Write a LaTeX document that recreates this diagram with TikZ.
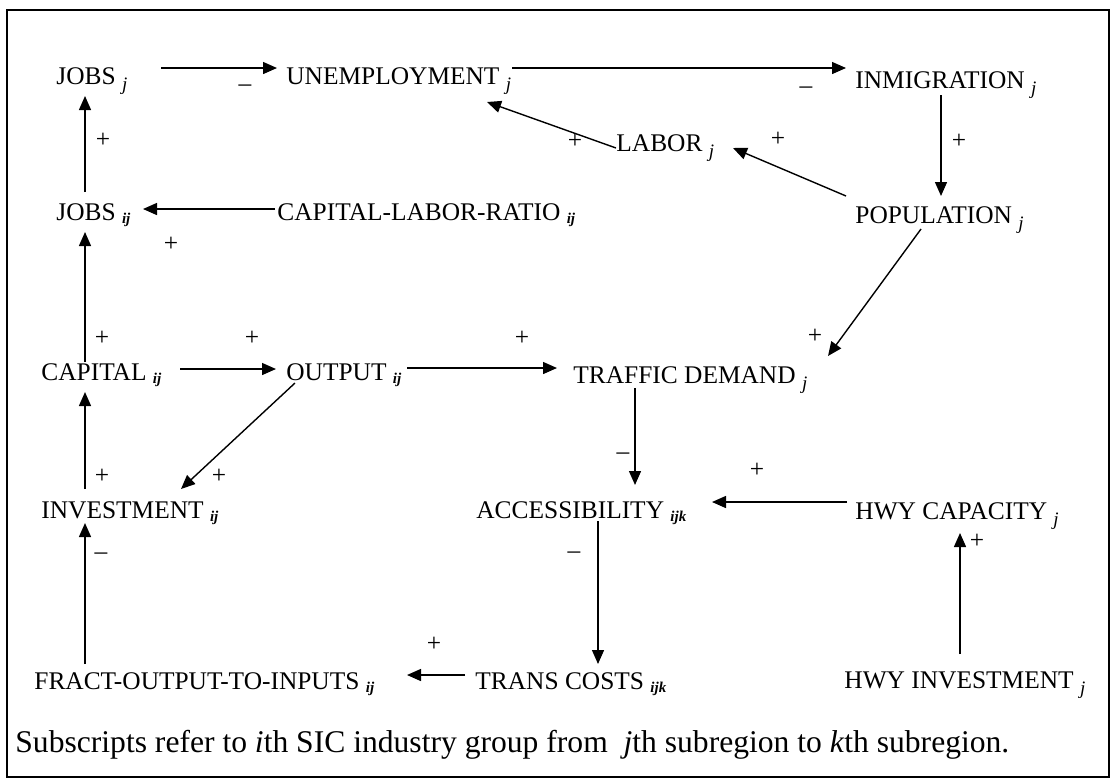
\documentclass[tikz,border=0pt]{standalone}
\usepackage{fontspec}
\setmainfont{Liberation Serif}
\usetikzlibrary{arrows.meta}

% subscripts: plain j, and the small bold ij / ijk
\newcommand{\sj}[1]{\raisebox{-3pt}{\fontsize{9.5}{9.5}\selectfont\itshape #1}}
\newcommand{\sij}[1]{\raisebox{-1.5pt}{\fontsize{7.5}{7.5}\selectfont\bfseries\itshape #1}}

\begin{document}
\begin{tikzpicture}[x=0.5pt,y=-0.5pt]
            \tikzstyle{var}=[anchor=west,inner sep=0pt,text height=8.4pt,text depth=0pt,font=\fontsize{12.7}{15}\selectfont]
            \tikzstyle{sgn}=[inner sep=0pt,font=\fontsize{12.7}{15}\selectfont]
            \tikzstyle{arr}=[-{Triangle[length=7pt,width=6pt]},line width=0.7pt]
            \useasboundingbox (0,0) rectangle (1112,778);
            \draw[line width=1pt] (7,10) rectangle (1109,777);

                    \node[var] (jobsj) at (56,76) {JOBS \sj{j}};
                    \node[var] (unemp) at (286,76) {UNEMPLOYMENT \sj{j}};
                    \node[var] (inmig) at (855,80) {INMIGRATION \sj{j}};
                    \node[var] (labor) at (616,143) {LABOR \sj{j}};
                    \node[var] (jobsij) at (56,212) {JOBS \sij{ij}};
                    \node[var] (clr) at (277,212) {CAPITAL-LABOR-RATIO \sij{ij}};
                    \node[var] (pop) at (855,215) {POPULATION \sj{j}};
                    \node[var] (capital) at (41,372) {CAPITAL \sij{ij}};
                    \node[var] (output) at (286,372) {OUTPUT \sij{ij}};
                    \node[var] (traffic) at (573,375) {TRAFFIC DEMAND \sj{j}};
                    \node[var] (invest) at (41,510) {INVESTMENT \sij{ij}};
                    \node[var] (access) at (476,510) {ACCESSIBILITY \sij{ijk}};
                    \node[var] (hwycap) at (855,511) {HWY CAPACITY \sj{j}};
                    \node[var] (fract) at (34,681) {FRACT-OUTPUT-TO-INPUTS \sij{ij}};
                    \node[var] (trans) at (475,681) {TRANS COSTS \sij{ijk}};
                    \node[var] (hwyinv) at (844,680) {HWY INVESTMENT \sj{j}};

                \foreach \from/\fx/\fy/\to/\tx/\ty in {jobsj/105/-8/unemp/-9/-8, unemp/226/-8/inmig/-9/-12,
                        labor/0/5/unemp/201/26, pop/-9/-19/labor/117/5, inmig/86/15/pop/86/-19,
                        clr/-2/-3/jobsij/87/-3, jobsij/29/-20/jobsj/29/20, capital/44/-10/jobsij/29/20,
                        capital/139/-3/output/-10/-3, output/121/-4/traffic/-16/-7, pop/66/14/traffic/255/-19,
                        output/9/11/invest/140/-21, invest/44/-21/capital/44/20, traffic/62/13/access/159/-25,
                        hwycap/-8/-9/access/236/-8, access/122/11/trans/123/-17, trans/-10/-6/fract/373/-6,
                        fract/51/-17/invest/44/13, hwyinv/116/-26/hwycap/105/22}
                    \draw[arr] ([shift={(\fx,\fy)}]\from.west) -- ([shift={(\tx,\ty)}]\to.west);

                \foreach \s/\x/\y [count=\i] in {–/245/88, –/806/90, +/575/141, +/778/139, +/959/141,
                        +/103/140, +/171/244, +/102/338, +/252/338, +/522/338, +/815/336, +/102/476,
                        +/219/476, –/623/456, +/757/470, –/574/555, +/434/644, –/101/556, +/977/541}
                    \node[sgn] (sg\i) at (\x,\y) {\s};

                    \node[anchor=west,inner sep=0pt,text height=10.5pt,text depth=0pt,font=\fontsize{15.8}{18}\selectfont] (note) at (15,742)
                        {Subscripts refer to \textit{i}th SIC industry group from\ \ \textit{j}th subregion to \textit{k}th subregion.};
        \end{tikzpicture}
\end{document}
